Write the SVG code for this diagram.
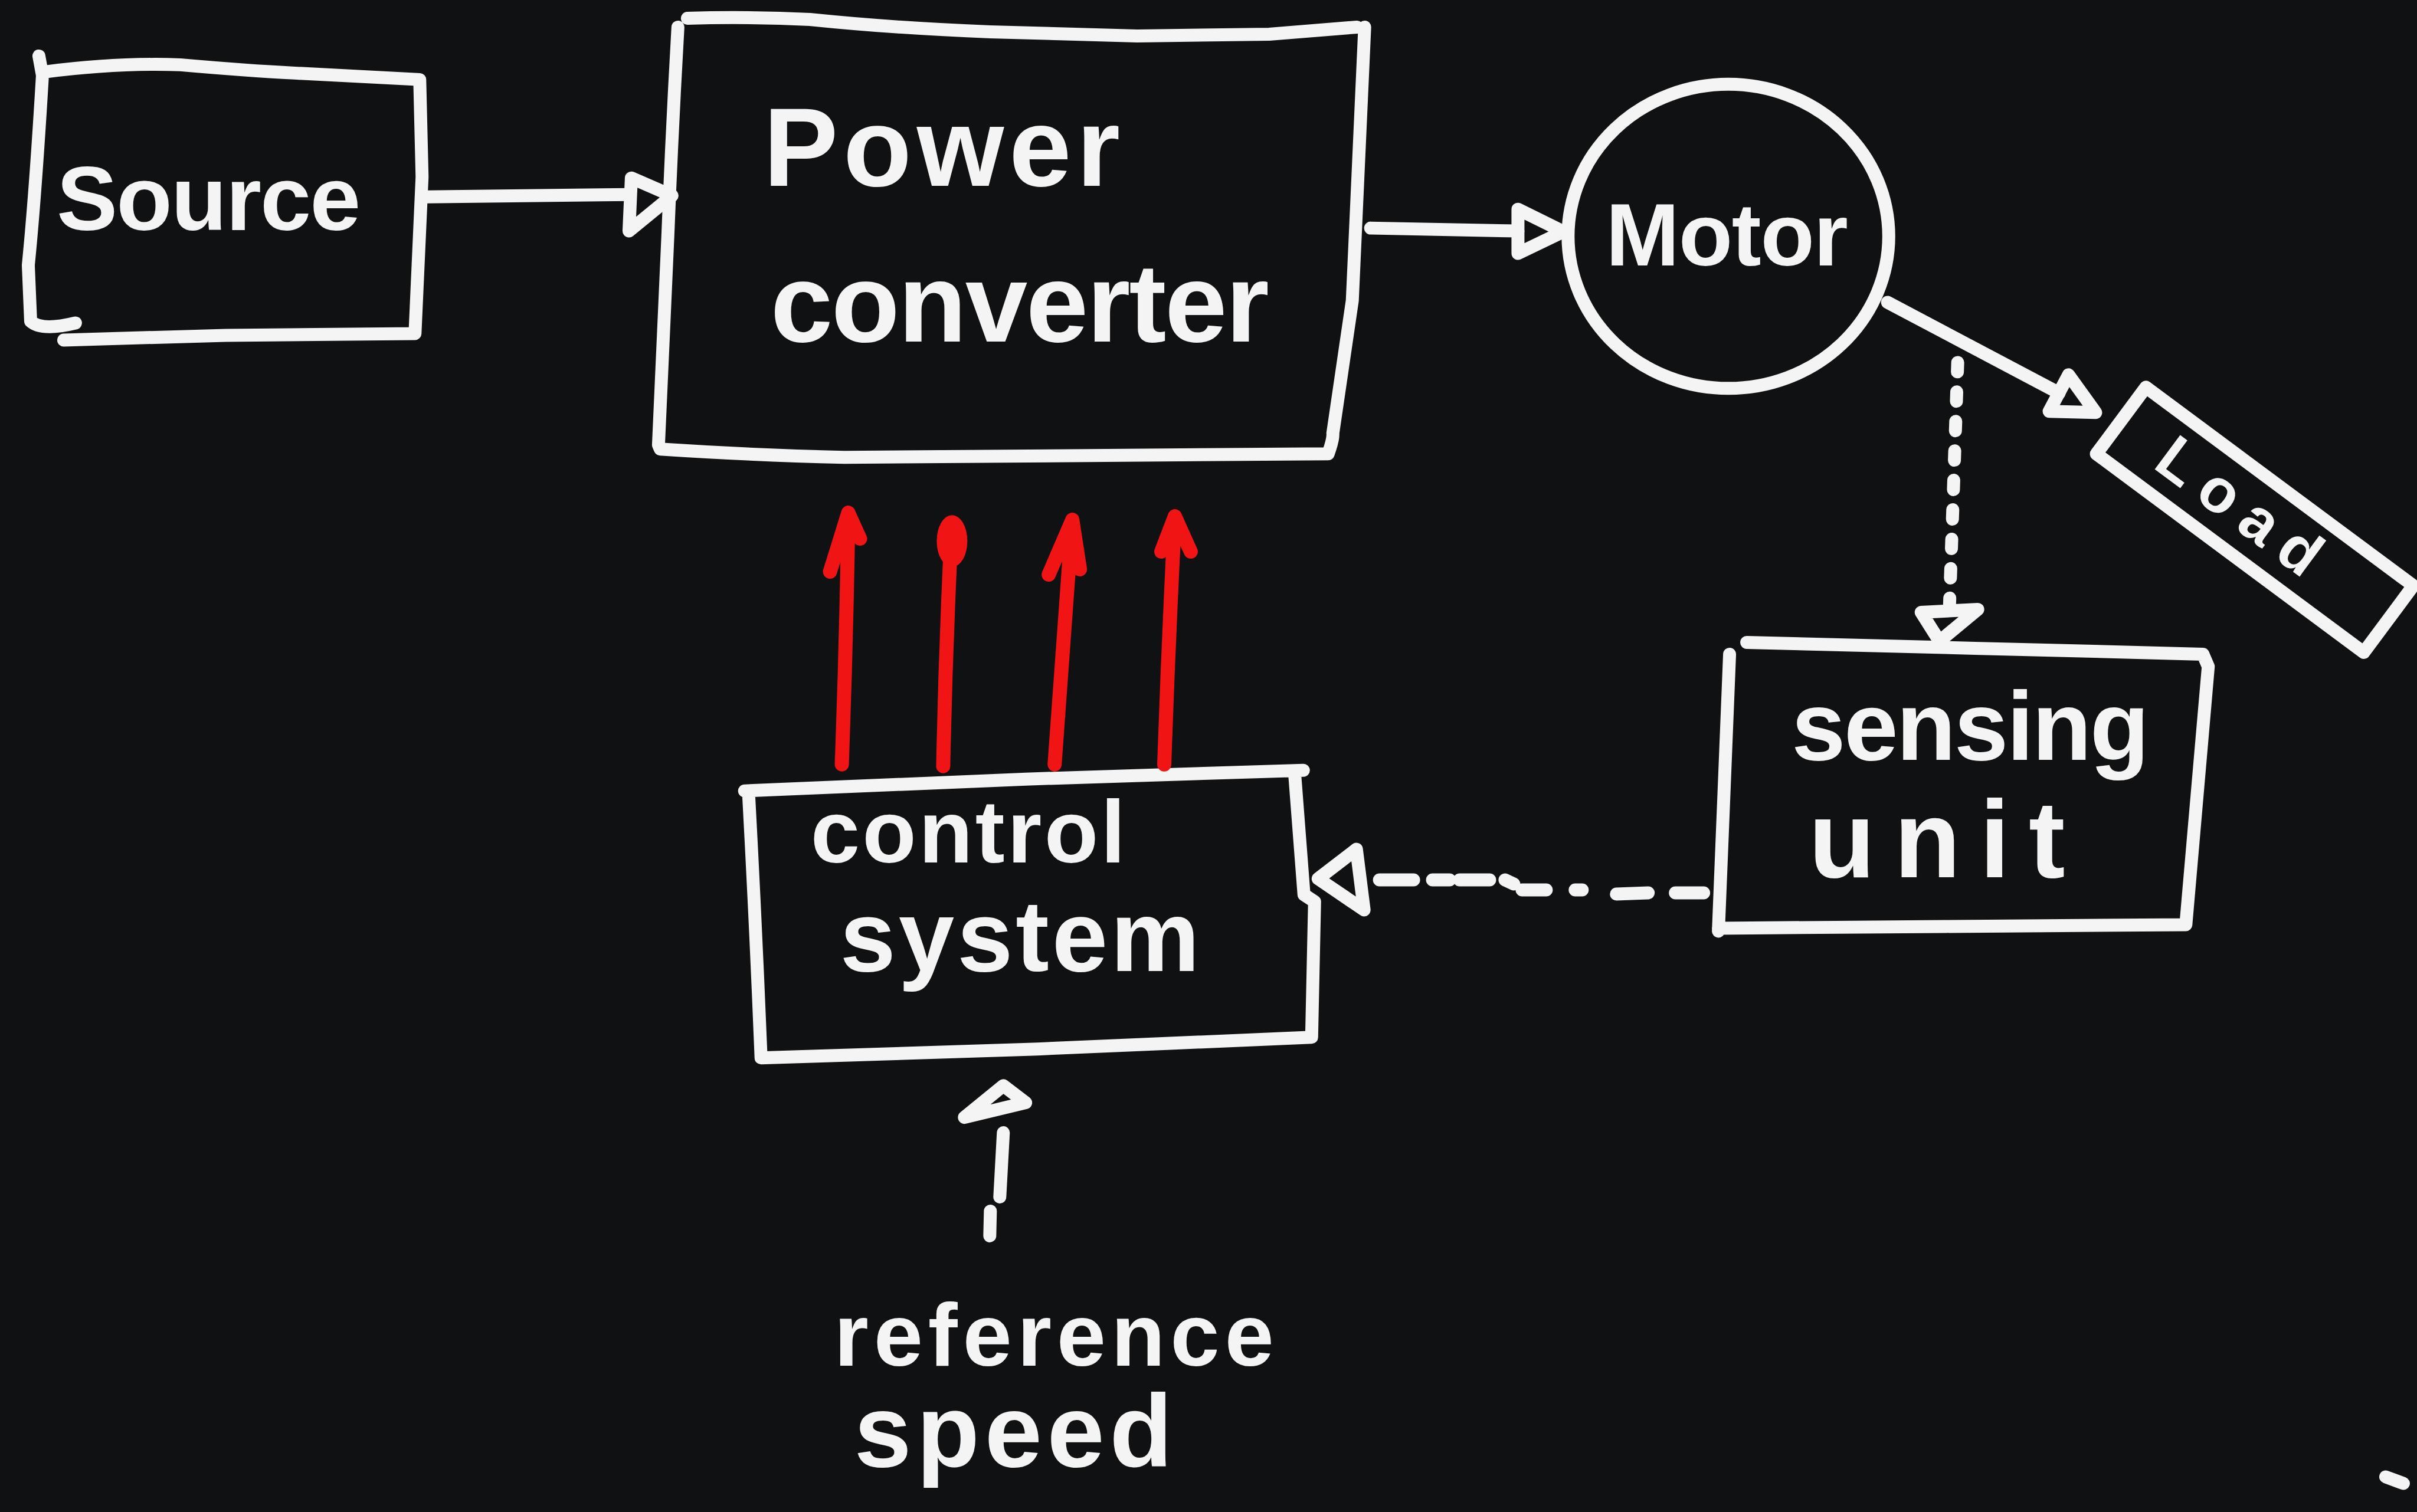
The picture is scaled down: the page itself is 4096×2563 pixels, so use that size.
<svg xmlns="http://www.w3.org/2000/svg" width="4096" height="2563" viewBox="0 0 4096 2563">
<style>
.w{fill:none;stroke:#f4f4f4;stroke-width:22;stroke-linecap:round;stroke-linejoin:round}
.r{fill:none;stroke:#f01414;stroke-width:24;stroke-linecap:round;stroke-linejoin:round}
.t{font-family:"Liberation Sans",Arial,sans-serif;font-weight:bold;fill:#f4f4f4}
</style>
<rect x="0" y="0" width="4096" height="2563" fill="#0f1113"/>
<g transform="scale(0.999)">
<g id="source">
<path class="w" d="M66,95 L72,128 Q60,330 48,450 L52,545 Q70,562 128,548 M76,122 Q200,106 306,110 Q420,120 500,124 L712,135 L716,300 L704,566 L383,569 L108,577"/>
<text class="t" x="96" y="390" font-size="155" textLength="516" lengthAdjust="spacing">Source</text>
</g>
<g id="power-converter">
<path class="w" d="M1166,31 Q1270,28 1374,33 Q1520,48 1680,54 L1929,61 L2153,58 L2302,46 M1150,46 Q1140,220 1133,398 L1117,755 L1120,762 Q1270,772 1432,776 L2253,770 Q2262,745 2261,735 L2294,510 L2315,46"/>
<text class="t" x="1295" y="315" font-size="190" textLength="605" lengthAdjust="spacing">Power</text>
<text class="t" x="1307" y="580" font-size="190" textLength="846" lengthAdjust="spacing">converter</text>
</g>
<g id="motor">
<ellipse class="w" cx="2932" cy="401" rx="272" ry="258"/>
<text class="t" x="2724" y="450" font-size="150" textLength="411" lengthAdjust="spacing">Motor</text>
</g>
<g id="load">
<rect class="w" x="3542.5" y="811.5" width="565" height="141" transform="rotate(36.6 3825 882)"/>
<text class="t" x="3800" y="858" font-size="105" text-anchor="middle" dominant-baseline="central" textLength="320" lengthAdjust="spacing" transform="rotate(36.6 3800 858)">Load</text>
</g>
<g id="sensing-unit">
<path class="w" d="M2963,1090 L3350,1100 L3737,1110 L3746,1131 L3708,1569 L3300,1572 L2915,1575 M2934,1110 Q2925,1340 2915,1580"/>
<text class="t" x="3039" y="1289" font-size="165" textLength="607" lengthAdjust="spacing">sensing</text>
<text class="t" x="3068" y="1488" font-size="185" textLength="435" lengthAdjust="spacing">unit</text>
</g>
<g id="control-system">
<path class="w" d="M1263,1342 L1740,1322 L2211,1307 M1270,1348 Q1282,1570 1291,1795 L1760,1780 L2225,1760 L2230,1530 L2212,1518 L2196,1310"/>
<text class="t" x="1375" y="1463" font-size="150" textLength="534" lengthAdjust="spacing">control</text>
<text class="t" x="1425" y="1648" font-size="170" textLength="610" lengthAdjust="spacing">system</text>
</g>
<g id="reference-speed">
<text class="t" x="1415" y="2317" font-size="150" textLength="746" lengthAdjust="spacing">reference</text>
<text class="t" x="1449" y="2488" font-size="175" textLength="540" lengthAdjust="spacing">speed</text>
</g>
<g id="connectors">
<path class="w" d="M723,334 L1068,330"/>
<polygon class="w" points="1071,302 1140,332 1067,392"/>
<path class="w" d="M2325,387 L2575,392"/>
<polygon class="w" points="2575,355 2652,393 2575,430"/>
<path class="w" d="M3202,513 L3493,667"/>
<polygon class="w" points="3509,636 3555,700 3476,698"/>
<path class="w" d="M3321,615 L3307,1030" stroke-dasharray="16 34"/>
<polygon class="w" points="3259,1039 3355,1034 3290,1088"/>
<path class="w" d="M2340,1493 L2398,1493 M2430,1493 L2459,1493 M2476,1493 L2527,1493 M2553,1493 L2568,1500 M2582,1510 L2623,1510 M2672,1510 L2684,1510 M2742,1517 L2796,1515 M2842,1515 L2890,1515"/>
<polygon class="w" points="2236,1491 2301,1441 2314,1544"/>
<path class="w" d="M1702,1922 L1696,2031 M1680,2055 L1679,2097"/>
<polygon class="w" points="1702,1842 1636,1896 1740,1871"/>
<path class="r" d="M1428,1297 Q1436,1080 1439,870 M1408,970 L1439,870 L1459,914"/>
<path class="r" d="M1600,1300 Q1604,1100 1614,900"/>
<ellipse cx="1615" cy="918" rx="26" ry="44" fill="#f01414"/>
<path class="r" d="M1789,1297 Q1804,1090 1819,882 M1779,975 L1819,882 L1832,966"/>
<path class="r" d="M1975,1297 Q1982,1090 1993,876 M1970,936 L1993,876 L2020,936"/>
</g>
<path class="w" d="M4047,2506 L4077,2517"/>
</g>
</svg>
